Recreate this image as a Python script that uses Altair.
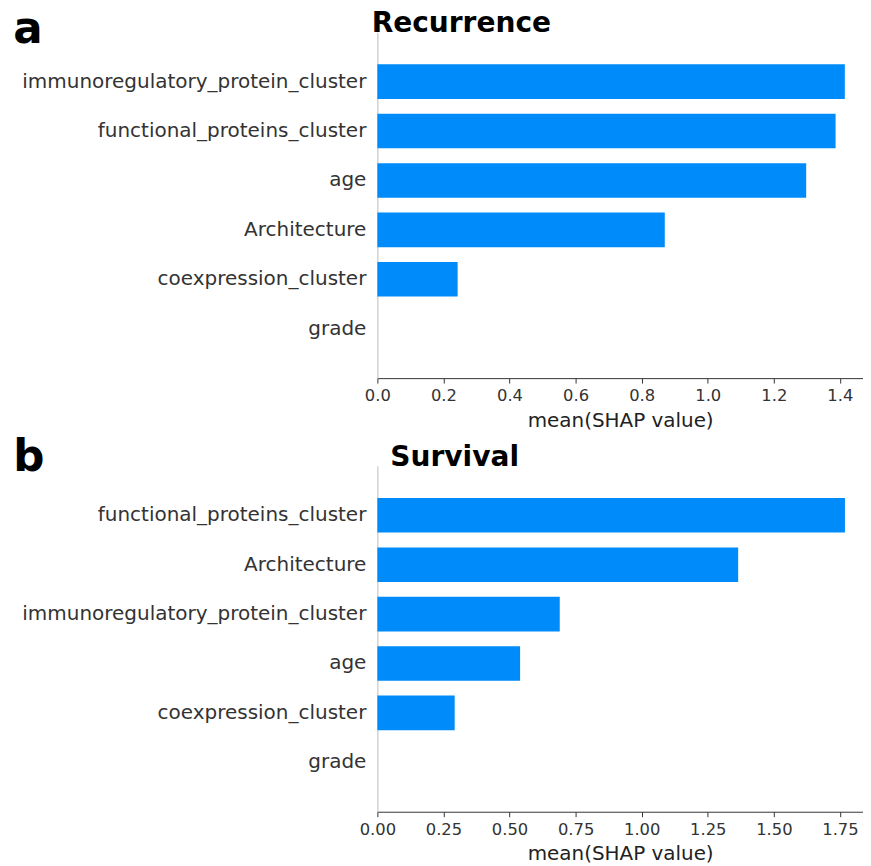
import altair as alt
import pandas as pd

# Panel a: Recurrence
rec_features = ["immunoregulatory_protein_cluster", "functional_proteins_cluster", "age",
                "Architecture", "coexpression_cluster", "grade"]
rec_values = [1.415, 1.387, 1.298, 0.870, 0.243, 0.0]
rec_ticks = [0.0, 0.2, 0.4, 0.6, 0.8, 1.0, 1.2, 1.4]

# Panel b: Survival
surv_features = ["functional_proteins_cluster", "Architecture", "immunoregulatory_protein_cluster",
                 "age", "coexpression_cluster", "grade"]
surv_values = [1.769, 1.365, 0.690, 0.540, 0.2925, 0.0]
surv_ticks = [0.0, 0.25, 0.5, 0.75, 1.0, 1.25, 1.5, 1.75]

FONT = "DejaVu Sans"
BLUE = "#008BFB"
W = 490
H = 349


def panel(features, values, ticks, xmax, fmt, letter, letter_y, title, title_x, title_y):
    df = pd.DataFrame({"feature": features, "value": values})
    bars = alt.Chart(df).mark_bar(color=BLUE).encode(
        y=alt.Y("feature:N", sort=features,
                scale=alt.Scale(paddingInner=0.3, paddingOuter=0.65),
                axis=alt.Axis(title=None, ticks=False, tickSize=0, labelPadding=11.6,
                              labelFont=FONT, labelFontSize=20.15, labelColor="#333333",
                              domainColor="#bbbbbb", domainWidth=1, labelLimit=600)),
        x=alt.X("value:Q",
                scale=alt.Scale(domain=[0, xmax], nice=False, zero=True),
                axis=alt.Axis(values=ticks, format=fmt, title="mean(SHAP value)", grid=False,
                              domainColor="#333333", tickColor="#333333", tickSize=5,
                              labelFont=FONT, labelFontSize=16.5, labelColor="#333333",
                              labelPadding=4.7, labelFlush=False,
                              titleFont=FONT, titleFontSize=20.1, titleColor="#222222",
                              titleFontWeight="normal", titlePadding=6.5)),
    )
    lab = alt.Chart(alt.Data(values=[{"t": letter}])).mark_text(
        font=FONT, fontSize=44, fontWeight="bold", color="black", align="left",
        baseline="alphabetic").encode(text="t:N", x=alt.value(-367.5), y=alt.value(letter_y))
    ttl = alt.Chart(alt.Data(values=[{"t": title}])).mark_text(
        font=FONT, fontSize=28.3, fontWeight="bold", color="black", align="left",
        baseline="alphabetic").encode(text="t:N", x=alt.value(title_x), y=alt.value(title_y))
    return alt.layer(bars, lab, ttl).properties(width=W, height=H)


a = panel(rec_features, rec_values, rec_ticks, 1.470, ".1f", "a", 11.2, "Recurrence", -5.8, -0.6)
b = panel(surv_features, surv_values, surv_ticks, 1.8373, ".2f", "b", 5.5, "Survival", 13.1, -0.2)

chart = alt.vconcat(a, b, spacing=5.5).properties(
    padding={"left": 4.7, "top": -3.4, "right": 0, "bottom": 0},
    background="white",
).configure_view(strokeWidth=0, stroke=None)

chart.save("out.html", embed_options={"renderer": "svg", "actions": False})
